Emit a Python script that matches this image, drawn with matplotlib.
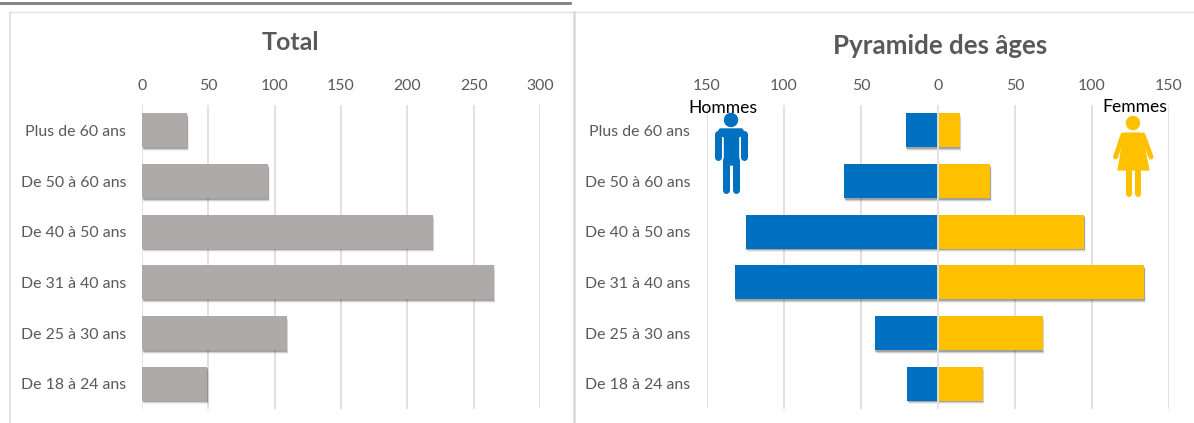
import numpy as np
import matplotlib
matplotlib.use("Agg")
import matplotlib.pyplot as plt
from matplotlib import patheffects as pe
from matplotlib.patches import Circle, Polygon
from matplotlib.lines import Line2D

plt.rcParams["font.family"] = ["Lato", "DejaVu Sans"]

W, H = 1194, 423

categories = ["Plus de 60 ans", "De 50 à 60 ans", "De 40 à 50 ans",
              "De 31 à 40 ans", "De 25 à 30 ans", "De 18 à 24 ans"]
total = [34, 95, 219, 265, 109, 49]
hommes = [21, 61, 125, 132, 41, 20]
femmes = [14, 34, 95, 134, 68, 29]
ticks_total = [0, 50, 100, 150, 200, 250, 300]
ticks_pyr = [-150, -100, -50, 0, 50, 100, 150]

GRID = "#d9d9d9"
TXT = "#595959"
BLUE = "#0070c0"
YEL = "#ffc000"


def shadow():
    # ombre floue approximee par plusieurs couches
    return [pe.SimplePatchShadow(offset=(1.2, -2.6), shadow_rgbFace="#000000", alpha=0.06),
            pe.SimplePatchShadow(offset=(0.8, -2), shadow_rgbFace="#000000", alpha=0.12),
            pe.SimplePatchShadow(offset=(0.4, -1.2), shadow_rgbFace="#000000", alpha=0.22),
            pe.Normal()]


def make_axes(x0, x1, y0, y1):
    ax = fig.add_axes([x0 / W, 1 - y1 / H, (x1 - x0) / W, (y1 - y0) / H])
    for s in ax.spines.values():
        s.set_visible(False)
    ax.set_axisbelow(True)
    ax.xaxis.tick_top()
    ax.grid(axis="x", color=GRID, lw=1.1)
    ax.tick_params(axis="both", length=0, labelsize=11.4, labelcolor=TXT)
    ax.tick_params(axis="x", pad=9)
    ax.set_ylim(5.5, -0.5)
    ax.set_yticks(np.arange(len(categories)))
    ax.set_yticklabels(categories)
    return ax


fig = plt.figure(figsize=(W / 100, H / 100), dpi=100)

# graphique de gauche
ax1 = make_axes(142, 540, 105, 409)
ax1.set_xlim(0, 300)
ax1.set_xticks(ticks_total)
ax1.tick_params(axis="y", pad=11.5)
bars = ax1.barh(np.arange(len(total)), total, height=0.67, color="#aeaaaa")
for b in bars:
    b.set_path_effects(shadow())

# pyramide
ax2 = make_axes(707, 1169, 105, 409)
ax2.set_xlim(-150, 150)
ax2.set_xticks(ticks_pyr)
ax2.set_xticklabels([str(abs(t)) for t in ticks_pyr])
ax2.tick_params(axis="y", pad=12)
y = np.arange(len(categories))
b_h = ax2.barh(y, -np.array(hommes), height=0.67, color=BLUE)
b_f = ax2.barh(y, femmes, height=0.67, color=YEL)
for b in list(b_h) + list(b_f):
    b.set_path_effects(shadow())
ax2.axvline(0, color="#e4e4e4", lw=1.3, zorder=5)

# calque en pixels pour les cadres, titres et pictogrammes
ov = fig.add_axes([0, 0, 1, 1], zorder=10)
ov.set_xlim(0, W)
ov.set_ylim(H, 0)
ov.axis("off")
ov.patch.set_alpha(0)

ov.add_line(Line2D([0, 570], [3, 3], color="#7f7f7f", lw=2))
ov.add_line(Line2D([10, 1194], [12, 12], color="#e3e3e3", lw=1))
ov.add_line(Line2D([10, 10], [12, 423], color="#dedede", lw=1.2))
ov.add_line(Line2D([573.5, 573.5], [12, 423], color="#d9d9d9", lw=1.8))

ov.text(290.5, 43, "Total", color=TXT, fontsize=18, fontweight="bold", ha="center", va="center")
ov.text(940, 46, "Pyramide des âges", color=TXT, fontsize=18.6, fontweight="bold", ha="center", va="center")
ov.text(723, 108, "Hommes", color="black", fontsize=12.6, ha="center", va="center")
ov.text(1135, 107, "Femmes", color="black", fontsize=12.6, ha="center", va="center")


def limb(xs, ys, color, width):
    ov.add_line(Line2D(xs, ys, color=color, lw=width * 0.72, solid_capstyle="round"))


# homme
ov.add_patch(Circle((731, 120), 7.2, color=BLUE, lw=0))
ov.add_patch(Polygon([(720, 129), (742, 129), (745, 134), (738.5, 137), (738.5, 165),
                      (724.5, 165), (724.5, 137), (717, 134)],
                     closed=True, facecolor=BLUE, edgecolor=BLUE, lw=1, joinstyle="round"))
limb([718, 718], [134, 157], BLUE, 7)
limb([744, 744], [134, 157], BLUE, 7)
limb([725.8, 725.8], [160, 190], BLUE, 7)
limb([736.2, 736.2], [160, 190], BLUE, 7)

# femme
ov.add_patch(Circle((1133, 123), 7.2, color=YEL, lw=0))
ov.add_patch(Polygon([(1125, 133), (1141, 133), (1143, 140), (1149, 170), (1118, 170), (1123, 140)],
                     closed=True, facecolor=YEL, edgecolor=YEL, lw=0.8, joinstyle="round"))
limb([1123, 1115.5], [135, 157], YEL, 5)
limb([1143, 1151], [135, 157], YEL, 5)
limb([1129, 1129], [168, 194], YEL, 6)
limb([1138.3, 1138.3], [168, 194], YEL, 6)

fig.savefig("out.png", dpi=100)
